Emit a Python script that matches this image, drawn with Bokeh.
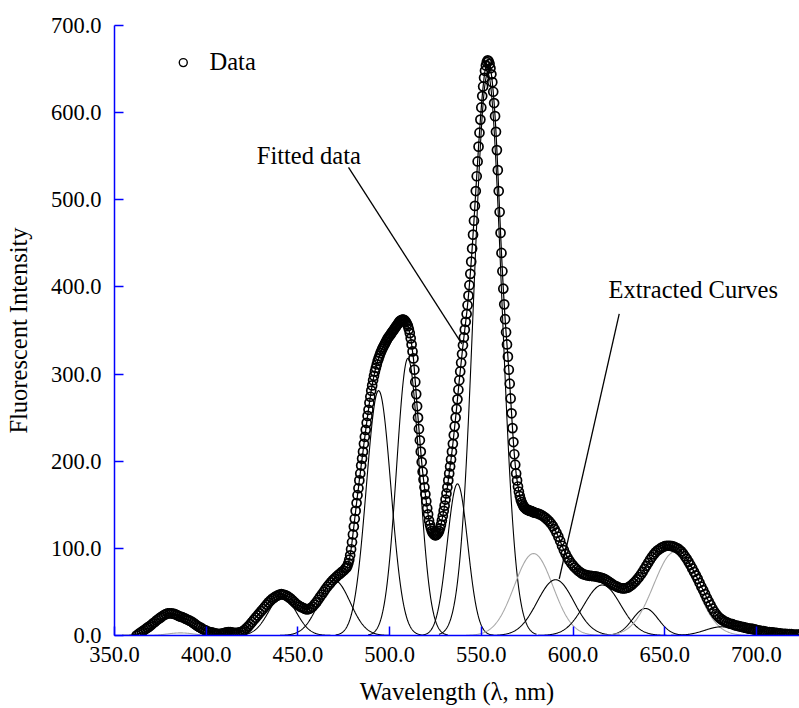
import numpy as np
from bokeh.plotting import figure
from bokeh.models import Range1d, FixedTicker, PrintfTickFormatter, Label
from bokeh.embed import file_html
from bokeh.resources import INLINE

# ---------------- data ----------------
# Measured spectrum, segment 1: 362 .. 476 nm every 1 nm
seg1_start, seg1_step = 362.0, 1.0
intensity_seg1 = [
    0, 1.5, 3, 4.5, 6, 7.5, 9, 10.5, 12, 14,
    15.5, 17.5, 19, 20.5, 22, 23.5, 24.5, 25.5, 25.5, 25.5,
    25, 24.5, 23.5, 22.5, 21.5, 21, 20, 19, 18, 17,
    16, 14.5, 13, 11.5, 10, 9, 7.5, 6.5, 5.5, 4.5,
    4, 3.5, 3, 2.5, 2, 2, 2, 2.5, 3, 3.5,
    4, 4, 3.5, 3, 3, 3, 3.5, 4, 5, 6.5,
    8.5, 10.5, 13, 15.5, 18, 20.5, 23, 25.5, 28, 30.5,
    33, 35.5, 38, 40, 42, 43.5, 45, 46, 47, 47.5,
    47, 46.5, 45.5, 44, 42.5, 40.5, 38.5, 36.5, 35, 33.5,
    32.5, 31.5, 30.5, 30, 30.5, 31.5, 33, 35.5, 38, 41,
    44, 47, 50, 53, 56, 58.5, 61, 63.5, 65.5, 67.5,
    69.5, 71, 73, 74.5, 77,
]
# segment 2: 476.5 .. 578.5 nm every 0.5 nm
seg2_start, seg2_step = 476.5, 0.5
intensity_seg2 = [
    78, 80, 83, 87, 92, 99, 107, 116, 125, 134,
    143, 152, 161, 169, 178, 186, 195, 203, 211, 220,
    228, 236, 244, 252, 259, 267, 274, 281, 287, 293,
    298, 303, 307, 311, 315, 318, 321, 324, 326.5, 329,
    331, 333, 335, 337, 339, 341, 342.5, 344, 345.5, 347,
    348.5, 350, 351.5, 353, 354.5, 356, 357.5, 359, 360.5, 361.5,
    362, 362.5, 362.5, 362, 361, 359.5, 357.5, 355, 351.5, 347,
    341, 334, 326, 318, 305, 291, 277, 263, 250, 237,
    224, 211, 199, 188, 179, 170, 162, 154, 146, 139,
    132, 127, 123, 120, 118, 116.5, 115.5, 115, 115.5, 116.5,
    118, 120, 123, 127, 132, 137, 143, 149, 156, 163,
    170, 178, 186, 194, 202, 211, 220, 230, 240, 250,
    260, 271, 282, 293, 303, 313, 323, 333, 342, 351,
    360, 369, 379, 390, 402, 415, 429, 444, 460, 476,
    493, 510, 527, 544, 561, 577, 592, 606, 619, 630,
    640, 648, 654, 658, 660, 659, 656, 651, 644, 635,
    624, 611, 596, 578, 557, 534, 510, 486, 462, 439,
    418, 398, 380, 363, 348, 334, 320, 305, 289, 272,
    255, 238, 222, 208, 196, 186, 178, 171, 165, 160,
    156, 153, 150.5, 148.5, 147, 146, 145, 144.5, 144, 143.5,
    143, 143, 142.5, 142, 141.5,
]
# segment 3: 579 .. 724 nm every 1 nm
seg3_start, seg3_step = 579.0, 1.0
intensity_seg3 = [
    141, 140.5, 140, 139, 138, 136.5, 135, 133, 131, 128.5,
    125.5, 122, 118, 113.5, 108.5, 103, 98, 93.5, 89.5, 86,
    83, 80.5, 78, 76, 74, 72.5, 71, 70, 69.5, 69,
    68.5, 68.5, 68, 68, 67.5, 67, 66.5, 66, 65, 64,
    62.5, 61, 59.5, 58, 57, 56, 55, 54.5, 54, 54,
    54.5, 55, 56.5, 58, 60, 62, 64.5, 67, 70, 73,
    76.5, 80, 83.5, 87, 90, 93, 95.5, 97.5, 99, 100.5,
    101.5, 102.5, 103, 103, 103, 102.5, 102, 101, 100, 98.5,
    96.5, 94, 91, 88, 84.5, 81, 77, 73, 69, 65,
    60.5, 56, 52, 47.5, 43, 39, 35, 31, 27.5, 24.5,
    22, 20, 18.5, 17, 16, 15, 14, 13.5, 13, 12,
    11.5, 11, 10.5, 10, 9.5, 9, 8.5, 8, 8, 7.5,
    7, 6.5, 6, 5.5, 5, 5, 4.5, 4, 4, 3.5,
    3.5, 3, 3, 2.5, 2.5, 2, 2, 2, 1.5, 1.5,
    1.5, 1, 1, 1, 1, 1,
]

# Extracted (Gaussian) component curves: centre (nm), height, width sigma (nm)
comp_center = [381.0, 386.0, 441.5, 470.0, 494.0, 510.0, 537.0, 553.5, 578.5, 590.5, 616.0, 639.5, 655.5, 681.0]
comp_height = [24.0, 3.0, 45.0, 63.0, 281.0, 318.0, 174.0, 645.0, 94.0, 64.0, 58.0, 31.0, 96.0, 10.0]
comp_sigma = [8.0, 7.0, 7.5, 8.5, 6.7, 6.2, 5.6, 7.6, 10.5, 10.0, 10.0, 7.0, 11.5, 9.0]
comp_gray = [False, True, False, False, False, False, False, False, True, False, False, False, True, False]

x_ticks = [350, 400, 450, 500, 550, 600, 650, 700]
y_ticks = [0, 100, 200, 300, 400, 500, 600, 700]

# annotation texts
legend_label = "Data"
fit_label = "Fitted data"
curves_label = "Extracted Curves"
x_title = "Wavelength (\u03bb, nm)"
y_title = "Fluorescent Intensity"

# ---------------- layout / style constants ----------------
FONT = "Liberation Serif"
FS_TICK = "22.5px"
FS = "24.5px"
BLUE = "#0000ff"

def seg_x(start, step, vals):
    return start + step * np.arange(len(vals))

wl = np.concatenate([seg_x(seg1_start, seg1_step, intensity_seg1),
                     seg_x(seg2_start, seg2_step, intensity_seg2),
                     seg_x(seg3_start, seg3_step, intensity_seg3)])
inten = np.concatenate([intensity_seg1, intensity_seg2, intensity_seg3]).astype(float)

p = figure(width=799, height=708, x_range=Range1d(350, 723.5), y_range=Range1d(0, 700),
           output_backend="svg", toolbar_location=None,
           min_border_left=114, min_border_right=0, min_border_top=25, min_border_bottom=73)
p.outline_line_color = None
p.xgrid.visible = False
p.ygrid.visible = False
p.background_fill_color = "white"
p.border_fill_color = "white"

for ax, ticks in ((p.xaxis, x_ticks), (p.yaxis, y_ticks)):
    ax.ticker = FixedTicker(ticks=ticks)
    ax.formatter = PrintfTickFormatter(format="%.1f")
    ax.axis_line_color = BLUE
    ax.axis_line_width = 1.5
    ax.major_tick_line_color = BLUE
    ax.major_tick_line_width = 1.5
    ax.major_tick_in = 9
    ax.major_tick_out = 0
    ax.minor_tick_line_color = None
    ax.major_label_text_font = FONT
    ax.major_label_text_font_size = FS_TICK
    ax.major_label_text_font_style = "normal"
    ax.major_label_text_color = "black"
    ax.axis_label_text_font = FONT
    ax.axis_label_text_font_size = FS
    ax.axis_label_text_font_style = "normal"
    ax.axis_label_text_color = "black"

p.xaxis.axis_label = x_title
p.yaxis.axis_label = y_title
p.xaxis.major_label_standoff = 11
p.xaxis.axis_label_standoff = 13
p.yaxis.major_label_standoff = 13
p.yaxis.axis_label_standoff = 16

# component curves
for c, h, s, g in zip(comp_center, comp_height, comp_sigma, comp_gray):
    xs = np.linspace(c - 3.5 * s, c + 3.5 * s, 240)
    ys = h * np.exp(-0.5 * ((xs - c) / s) ** 2)
    p.line(xs, ys, line_color="#a8a8a8" if g else "black", line_width=1.1)

# fitted line (coincides with the data)
p.line(wl, inten, line_color="black", line_width=1.2)

# data circles
p.scatter(wl, inten, marker="circle", size=9, fill_color=None, line_color="black", line_width=1.7)

# legend
p.scatter([387.5], [657.4], marker="circle", size=8, fill_color=None, line_color="black", line_width=1.4)
p.add_layout(Label(x=401.8, y=658.5, text=legend_label, text_font=FONT, text_font_size=FS,
                   text_baseline="alphabetic", text_align="left", text_color="black"))

# annotations
p.add_layout(Label(x=427.6, y=550.5, text=fit_label, text_font=FONT, text_font_size=FS,
                   text_baseline="alphabetic", text_align="left", text_color="black"))
p.line([477.6, 539.4], [537.3, 334.7], line_color="black", line_width=1.3)

p.add_layout(Label(x=619.4, y=397.3, text=curves_label, text_font=FONT, text_font_size=FS,
                   text_baseline="alphabetic", text_align="left", text_color="black"))
p.line([625.2, 592.5], [369.1, 65.0], line_color="black", line_width=1.3)

open("out.html", "w").write(file_html(p, INLINE))
